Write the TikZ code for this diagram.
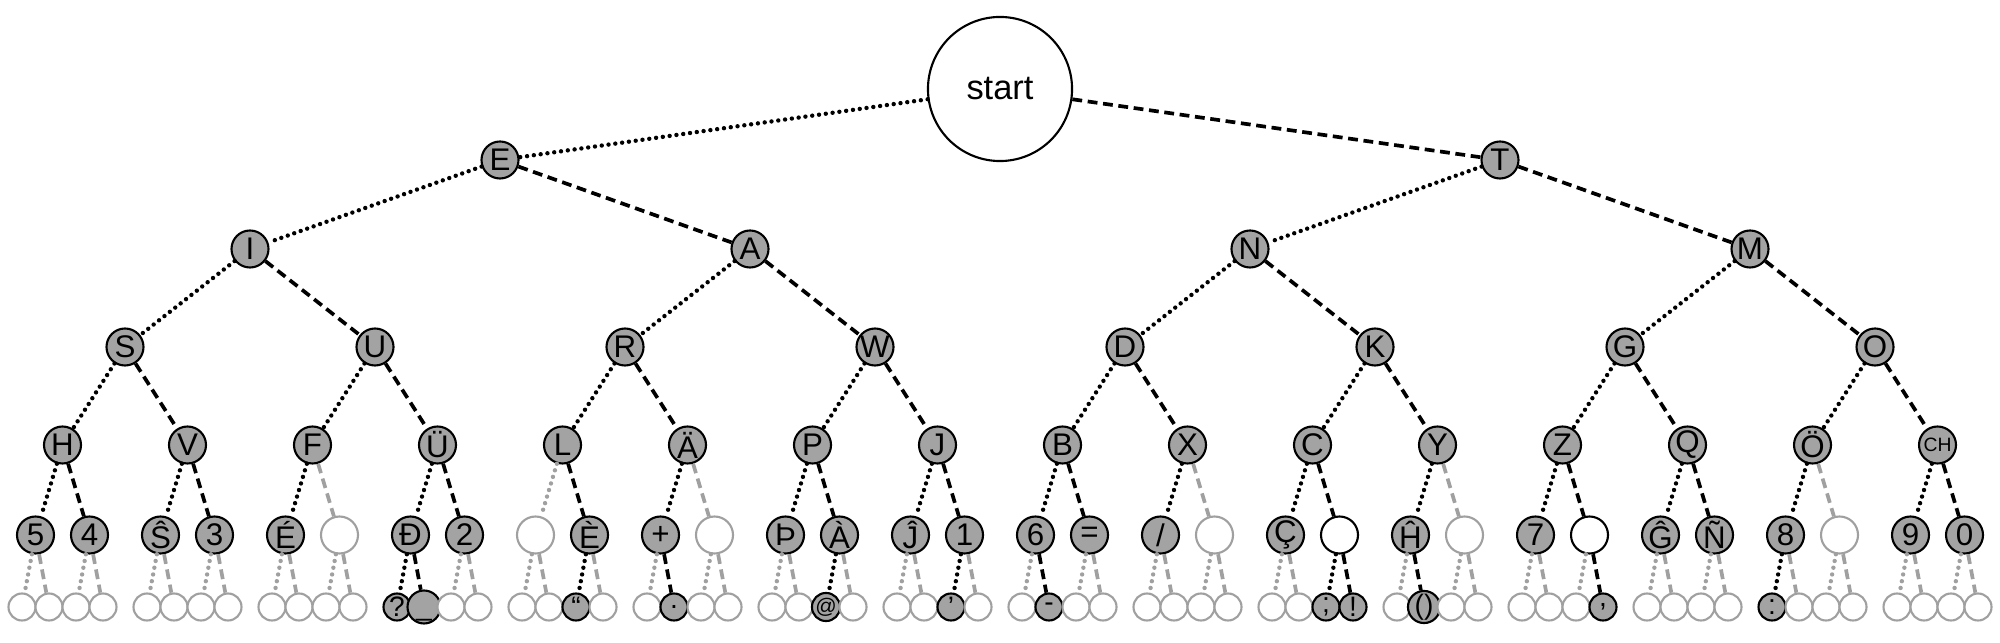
\documentclass[tikz,border=0pt]{standalone}
\usepackage{fontspec}
\setmainfont{Liberation Sans}
\usetikzlibrary{positioning}
\definecolor{Shade}{HTML}{A3A3A3}
\definecolor{Faint}{HTML}{A0A0A0}

% grow one level of the code tree: dx, dy, {parent/beat/label/kind}
\newcommand\sprout[4][]{%
  \foreach \p/\s/\txt/\kind in {#4}{%
    \if d\s\def\sg{-1}\def\beat{dit}\else\def\sg{1}\def\beat{dah}\fi
    \node[\kind,#1] (\p\s) at ([shift={(\sg*#2,#3)}]\p.center) {\txt};
    \draw[to \kind,\beat] (\p) -- (\p\s);}}

\begin{document}
\begin{tikzpicture}[x=0.01cm,y=-0.01cm,
    full/.style={circle,draw=black,line width=0.6pt,fill=Shade,inner sep=0pt,
                 minimum size=0.37cm,font=\fontsize{8.9}{9}\selectfont},
    hollow/.style={full,fill=white},
    void/.style={full,draw=Faint,fill=white},
    small/.style={minimum size=0.27cm,font=\fontsize{8}{8}\selectfont},
    to full/.style={draw=black},
    to hollow/.style={draw=black},
    to void/.style={draw=Faint},
    dit/.style={line width=1.25pt,line cap=round,dash pattern=on 0pt off 1.95pt},
    dah/.style={line width=1.05pt,dash pattern=on 2.8pt off 1.6pt}
  ]
  \useasboundingbox (0,0) rectangle (2000,643);
  \node[hollow,minimum size=1.44cm,font=\fontsize{9.8}{11}\selectfont] (start) at (1000,89) {start};
  \node[full] (d) at (500,160) {E};
  \node[full] (t) at (1500,160) {T};
  \draw[dit] (start) -- (d);
  \draw[dah] (start) -- (t);
  \sprout{250}{89}{d/d/I/full, d/t/A/full, t/d/N/full, t/t/M/full}
  \sprout{125}{98}{dd/d/S/full, dd/t/U/full, dt/d/R/full, dt/t/W/full,
    td/d/D/full, td/t/K/full, tt/d/G/full, tt/t/O/full}
  \sprout{62.5}{98}{ddd/d/H/full, ddd/t/V/full, ddt/d/F/full, ddt/t/Ü/full,
    dtd/d/L/full, dtd/t/Ä/full, dtt/d/P/full, dtt/t/J/full,
    tdd/d/B/full, tdd/t/X/full, tdt/d/C/full, tdt/t/Y/full,
    ttd/d/Z/full, ttd/t/Q/full, ttt/d/Ö/full, ttt/t/{\fontsize{5.5}{6}\selectfont CH}/full}
  \sprout{27}{90}{dddd/d/5/full, dddd/t/4/full, dddt/d/Ŝ/full, dddt/t/3/full,
    ddtd/d/É/full, ddtd/t//void, ddtt/d/Đ/full, ddtt/t/2/full,
    dtdd/d//void, dtdd/t/È/full, dtdt/d/+/full, dtdt/t//void,
    dttd/d/Þ/full, dttd/t/À/full, dttt/d/Ĵ/full, dttt/t/1/full,
    tddd/d/6/full, tddd/t/=/full, tddt/d/{/}/full, tddt/t//void,
    tdtd/d/Ç/full, tdtd/t//hollow, tdtt/d/Ĥ/full, tdtt/t//void,
    ttdd/d/7/full, ttdd/t//hollow, ttdt/d/Ĝ/full, ttdt/t/Ñ/full,
    tttd/d/8/full, tttd/t//void, tttt/d/9/full, tttt/t/0/full}
  \sprout[small]{13.5}{72}{ddddd/d//void, ddddd/t//void, ddddt/d//void, ddddt/t//void,
    dddtd/d//void, dddtd/t//void, dddtt/d//void, dddtt/t//void,
    ddtdd/d//void, ddtdd/t//void, ddtdt/d//void, ddtdt/t//void,
    ddttd/d/?/full, ddttd/t/\vphantom{Ä}\_/full, ddttt/d//void, ddttt/t//void,
    dtddd/d//void, dtddd/t//void, dtddt/d/\textquotedblleft/full, dtddt/t//void,
    dtdtd/d//void, dtdtd/t/./full, dtdtt/d//void, dtdtt/t//void,
    dttdd/d//void, dttdd/t//void, dttdt/d/{\fontsize{6}{6}\selectfont @}/full, dttdt/t//void,
    dtttd/d//void, dtttd/t//void, dtttt/d/’/full, dtttt/t//void,
    tdddd/d//void, tdddd/t/-/full, tdddt/d//void, tdddt/t//void,
    tddtd/d//void, tddtd/t//void, tddtt/d//void, tddtt/t//void,
    tdtdd/d//void, tdtdd/t//void, tdtdt/d/;/full, tdtdt/t/!/full,
    tdttd/d//void, tdttd/t/()/full, tdttt/d//void, tdttt/t//void,
    ttddd/d//void, ttddd/t//void, ttddt/d//void, ttddt/t/{,}/full,
    ttdtd/d//void, ttdtd/t//void, ttdtt/d//void, ttdtt/t//void,
    tttdd/d/:/full, tttdd/t//void, tttdt/d//void, tttdt/t//void,
    ttttd/d//void, ttttd/t//void, ttttt/d//void, ttttt/t//void}
\end{tikzpicture}
\end{document}
